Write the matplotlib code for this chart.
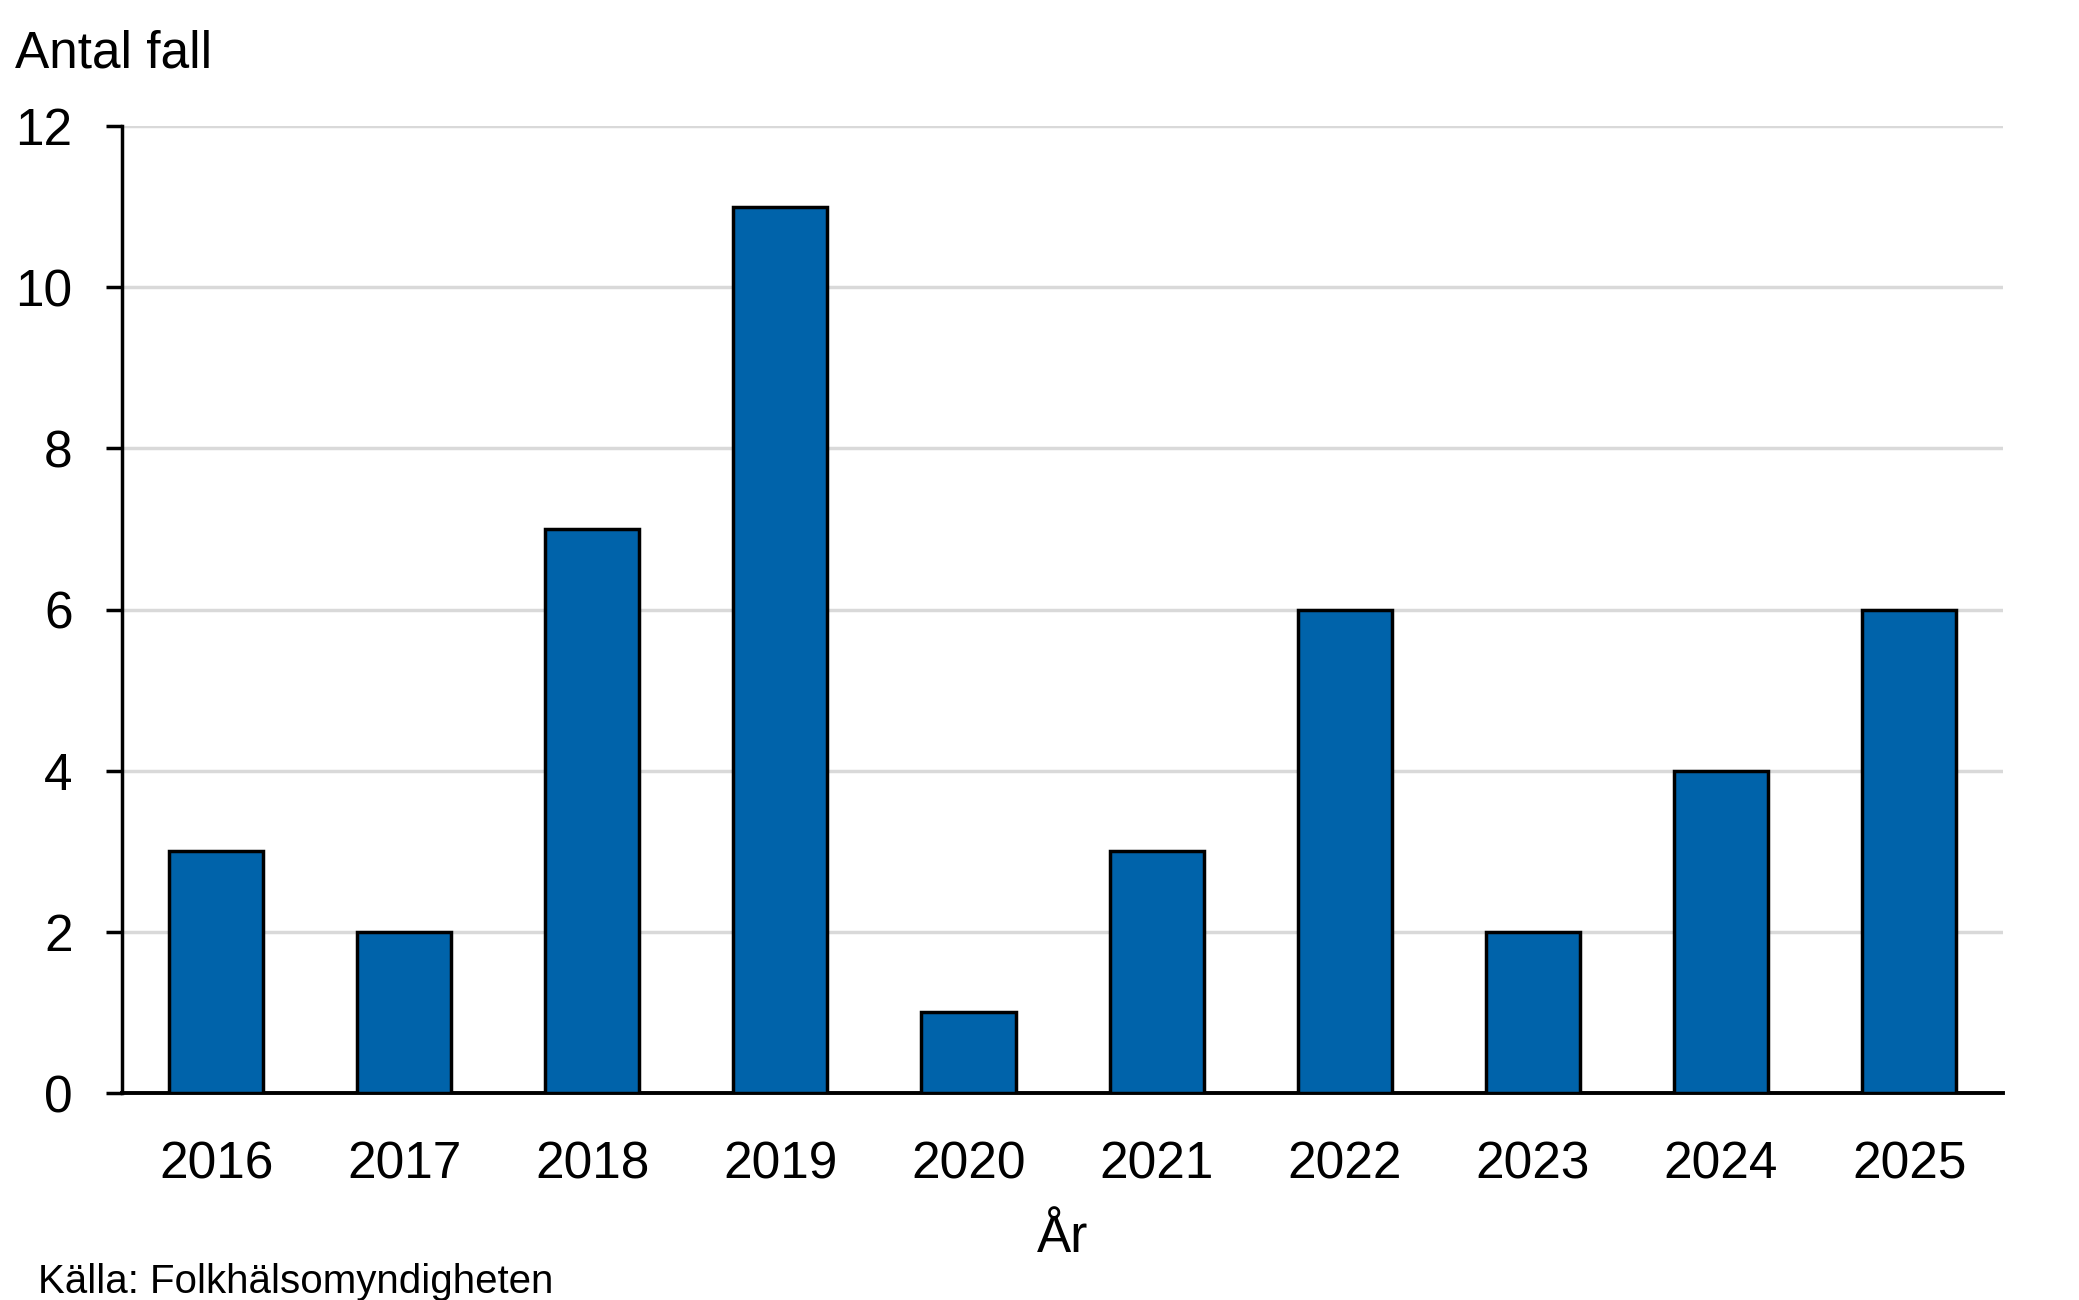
import matplotlib
matplotlib.use("Agg")
import matplotlib.pyplot as plt

# data
years = ["2016", "2017", "2018", "2019", "2020", "2021", "2022", "2023", "2024", "2025"]
cases = [3, 2, 7, 11, 1, 3, 6, 2, 4, 6]
yticks = [0, 2, 4, 6, 8, 10, 12]

plt.rcParams['font.family'] = ['Liberation Sans', 'DejaVu Sans']

fig = plt.figure(figsize=(20.79, 13), dpi=100)
ax = fig.add_axes([0.0587, 0.1592, 0.9048, 0.7439])

ax.bar(range(len(years)), cases, width=0.5, color="#0063AA", edgecolor="black",
       linewidth=2.5, zorder=3)

ax.set_xlim(-0.5, len(years) - 0.5)
ax.set_ylim(0, 12)
ax.set_yticks(yticks)
ax.set_xticks(range(len(years)))
ax.set_xticklabels(years)

ax.grid(axis="y", color="#D9D9D9", linewidth=2.5, zorder=0)
ax.set_axisbelow(True)

for s in ["top", "right"]:
    ax.spines[s].set_visible(False)
ax.spines["left"].set_linewidth(2.5)
ax.spines["bottom"].set_linewidth(2.8)

ax.tick_params(axis="y", length=11.5, width=2.5, pad=24, labelsize=37)
ax.tick_params(axis="x", length=0, pad=34, labelsize=37)

ax.set_xlabel("År", fontsize=37, labelpad=18)

fig.text(15 / 2079, 1 - 68 / 1300, "Antal fall", fontsize=37, va="baseline", ha="left")
fig.text(38 / 2079, 1 - 1293 / 1300, "Källa: Folkhälsomyndigheten", fontsize=29,
         va="baseline", ha="left")

fig.savefig("out.png", dpi=100)
